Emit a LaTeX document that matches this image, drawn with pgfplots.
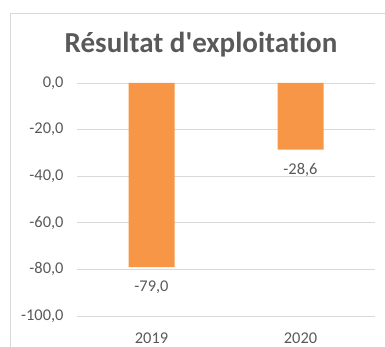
\documentclass[border=0pt]{standalone}
\usepackage{fontspec}
\setmainfont{Carlito}
\newfontfamily\titlefont{Carlito}[Ligatures=NoCommon]
\usepackage{pgfplots}
\pgfplotsset{compat=1.18}
\definecolor{barorange}{HTML}{F79646}
\definecolor{txtgray}{HTML}{595959}
\definecolor{gridgray}{HTML}{D9D9D9}
\begin{document}
\begin{tikzpicture}[x=1pt,y=1pt]
% chart frame
\draw[gridgray, line width=0.8pt] (10.5,0) -- (10.5,334) -- (386,334);
\node[font=\titlefont\bfseries\fontsize{29}{33}\selectfont, text=txtgray, anchor=base] at (201,294) {Résultat d'exploitation};
\begin{axis}[
  at={(77pt,31pt)}, anchor=south west,
  scale only axis, width=298pt, height=233pt,
  ybar, bar width=46pt,
  xmin=-0.5, xmax=1.5, ymin=-100, ymax=0,
  xtick={0,1}, xticklabels={2019,2020},
  ytick={-100,-80,-60,-40,-20,0},
  ymajorgrids, grid style={gridgray, line width=0.9pt},
  axis line style={draw=none}, tick style={draw=none},
  /pgf/number format/assume math mode=true,
  /pgf/number format/fixed, /pgf/number format/fixed zerofill,
  /pgf/number format/precision=1, /pgf/number format/use comma,
  yticklabel style={font=\fontsize{16.4}{19}\selectfont, text=txtgray, xshift=-10pt},
  xticklabel style={font=\fontsize{16.4}{19}\selectfont, text=txtgray, yshift=-9pt},
  nodes near coords,
  nodes near coords style={font=\fontsize{16.4}{19}\selectfont, text=txtgray, anchor=north, yshift=-10.5pt},
]
\addplot[fill=barorange, draw=none] coordinates {(0,-79.0) (1,-28.6)};
\end{axis}
\pgfresetboundingbox
\path (0,0) rectangle (385,347);
\end{tikzpicture}
\end{document}
